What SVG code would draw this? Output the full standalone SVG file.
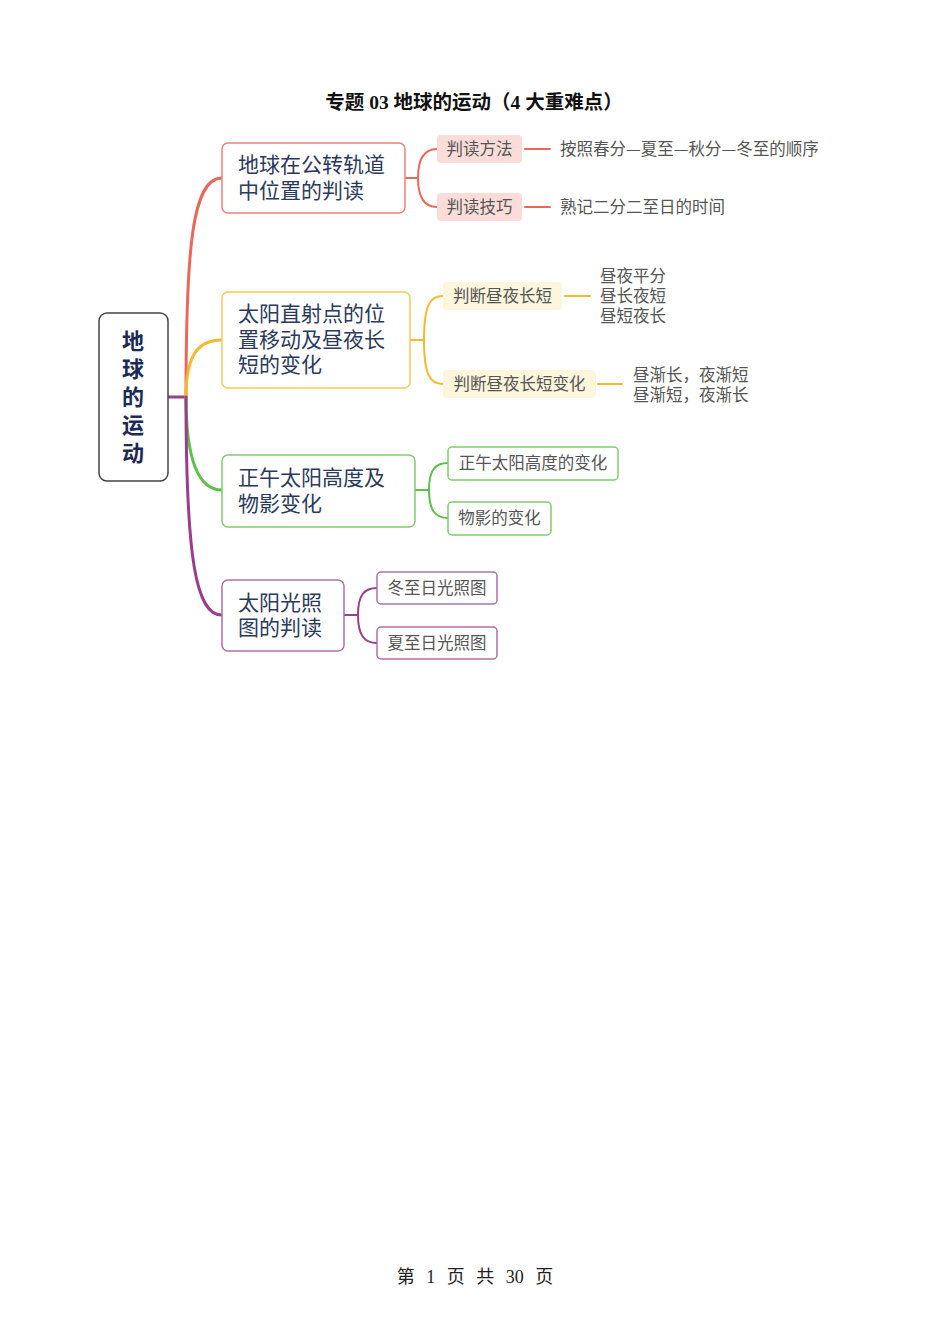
<svg xmlns="http://www.w3.org/2000/svg" width="950" height="1344" viewBox="0 0 950 1344">
<style>
.title{font-family:"Liberation Serif","Noto Sans CJK SC",serif;font-size:19.5px;font-weight:bold;fill:#111}
.foot{font-family:"Liberation Serif","Noto Sans CJK SC",serif;font-size:18px;fill:#222;word-spacing:7px}
.root{font-family:"Noto Sans CJK SC",sans-serif;font-size:22px;font-weight:bold;fill:#1c2a55}
.main{font-family:"Noto Sans CJK SC",sans-serif;font-size:21px;fill:#2b3a5c}
.sub{font-family:"Noto Sans CJK SC",sans-serif;font-size:16.5px;fill:#555}
.leaf{font-family:"Noto Sans CJK SC",sans-serif;font-size:16.5px;fill:#555}
.w3{fill:none;stroke-width:3;stroke-linecap:round}
.w2{fill:none;stroke-width:2;stroke-linecap:round}
.red{stroke:#e8695c}.yel{stroke:#f4b92e}.grn{stroke:#5cc04a}.pur{stroke:#9a3d8c}
</style>
<rect width="950" height="1344" fill="#fff"/>
<text class="title" x="474" y="109" text-anchor="middle">专题 03 地球的运动（4 大重难点）</text>

<g id="connectors">
<path class="w3 pur" d="M168,397 H186"/>
<path class="w3 red" d="M186,397 C186,250 192,178 222,178"/>
<path class="w3 yel" d="M186,397 C186,355 198,340 222,340"/>
<path class="w3 grn" d="M186,397 C186,460 198,490 222,490"/>
<path class="w3 pur" d="M186,397 C186,560 196,615 222,615"/>

<path class="w2 red" d="M405,178 H418 M418,178 C418,158 425,149 437,149 M418,178 C418,198 425,207 437,207"/>
<path class="w2 red" d="M525,149 H550 M525,207 H550"/>

<path class="w2 yel" d="M410,340 H424 M424,340 C424,305 430,296 443,296 M424,340 C424,375 430,384 443,384"/>
<path class="w2 yel" d="M565,296 H590 M598,384 H622"/>

<path class="w2 grn" d="M415,490 H429 M429,490 C429,470 435,463 448,463 M429,490 C429,510 435,518 448,518"/>

<path class="w2 pur" d="M344,615 H358 M358,615 C358,595 364,588 377,588 M358,615 C358,635 364,643 377,643"/>
</g>

<g id="root">
<rect x="99" y="313" width="69" height="168" rx="8" fill="#fff" stroke="#444" stroke-width="1.5"/>
<text class="root" x="133" y="349" text-anchor="middle">地</text>
<text class="root" x="133" y="377" text-anchor="middle">球</text>
<text class="root" x="133" y="405" text-anchor="middle">的</text>
<text class="root" x="133" y="433" text-anchor="middle">运</text>
<text class="root" x="133" y="461" text-anchor="middle">动</text>
</g>

<g id="n1">
<rect x="222" y="143" width="183" height="70" rx="6" fill="#fff" stroke="#e8847a" stroke-width="1.5"/>
<text class="main" x="238" y="172">地球在公转轨道</text>
<text class="main" x="238" y="198">中位置的判读</text>
</g>
<g id="n1a">
<rect x="437" y="135" width="85" height="28" rx="4" fill="#fbdcd8"/>
<text class="sub" x="479.5" y="155" text-anchor="middle">判读方法</text>
</g>
<g id="n1b">
<rect x="437" y="193" width="85" height="28" rx="4" fill="#fbdcd8"/>
<text class="sub" x="479.5" y="213" text-anchor="middle">判读技巧</text>
</g>
<g id="n1a1"><text class="leaf" x="560" y="155">按照春分—夏至—秋分—冬至的顺序</text></g>
<g id="n1b1"><text class="leaf" x="560" y="213">熟记二分二至日的时间</text></g>

<g id="n2">
<rect x="222" y="292" width="188" height="96" rx="6" fill="#fff" stroke="#f4c95a" stroke-width="1.5"/>
<text class="main" x="238" y="321">太阳直射点的位</text>
<text class="main" x="238" y="347">置移动及昼夜长</text>
<text class="main" x="238" y="372">短的变化</text>
</g>
<g id="n2a">
<rect x="443" y="282" width="119" height="28" rx="4" fill="#fdf5dc"/>
<text class="sub" x="502.5" y="302" text-anchor="middle">判断昼夜长短</text>
</g>
<g id="n2b">
<rect x="443" y="370" width="153" height="28" rx="4" fill="#fdf5dc"/>
<text class="sub" x="519.5" y="390" text-anchor="middle">判断昼夜长短变化</text>
</g>
<g id="n2a1">
<text class="leaf" x="600" y="282">昼夜平分</text>
<text class="leaf" x="600" y="302">昼长夜短</text>
<text class="leaf" x="600" y="322">昼短夜长</text>
</g>
<g id="n2b1">
<text class="leaf" x="633" y="381">昼渐长，夜渐短</text>
<text class="leaf" x="633" y="401">昼渐短，夜渐长</text>
</g>

<g id="n3">
<rect x="222" y="455" width="193" height="72" rx="6" fill="#fff" stroke="#7fcc70" stroke-width="1.5"/>
<text class="main" x="238" y="485">正午太阳高度及</text>
<text class="main" x="238" y="511">物影变化</text>
</g>
<g id="n3a">
<rect x="448" y="447" width="170" height="33" rx="4" fill="#fff" stroke="#7fcc70" stroke-width="1.5"/>
<text class="sub" x="533" y="469" text-anchor="middle">正午太阳高度的变化</text>
</g>
<g id="n3b">
<rect x="448" y="502" width="103" height="33" rx="4" fill="#fff" stroke="#7fcc70" stroke-width="1.5"/>
<text class="sub" x="499.5" y="524" text-anchor="middle">物影的变化</text>
</g>

<g id="n4">
<rect x="222" y="580" width="122" height="71" rx="6" fill="#fff" stroke="#b070a6" stroke-width="1.5"/>
<text class="main" x="238" y="610">太阳光照</text>
<text class="main" x="238" y="635">图的判读</text>
</g>
<g id="n4a">
<rect x="377" y="572" width="120" height="32" rx="4" fill="#fff" stroke="#b070a6" stroke-width="1.5"/>
<text class="sub" x="437" y="594" text-anchor="middle">冬至日光照图</text>
</g>
<g id="n4b">
<rect x="377" y="627" width="120" height="32" rx="4" fill="#fff" stroke="#b070a6" stroke-width="1.5"/>
<text class="sub" x="437" y="649" text-anchor="middle">夏至日光照图</text>
</g>

<text class="foot" x="475" y="1283" text-anchor="middle">第 1 页 共 30 页</text>
</svg>
